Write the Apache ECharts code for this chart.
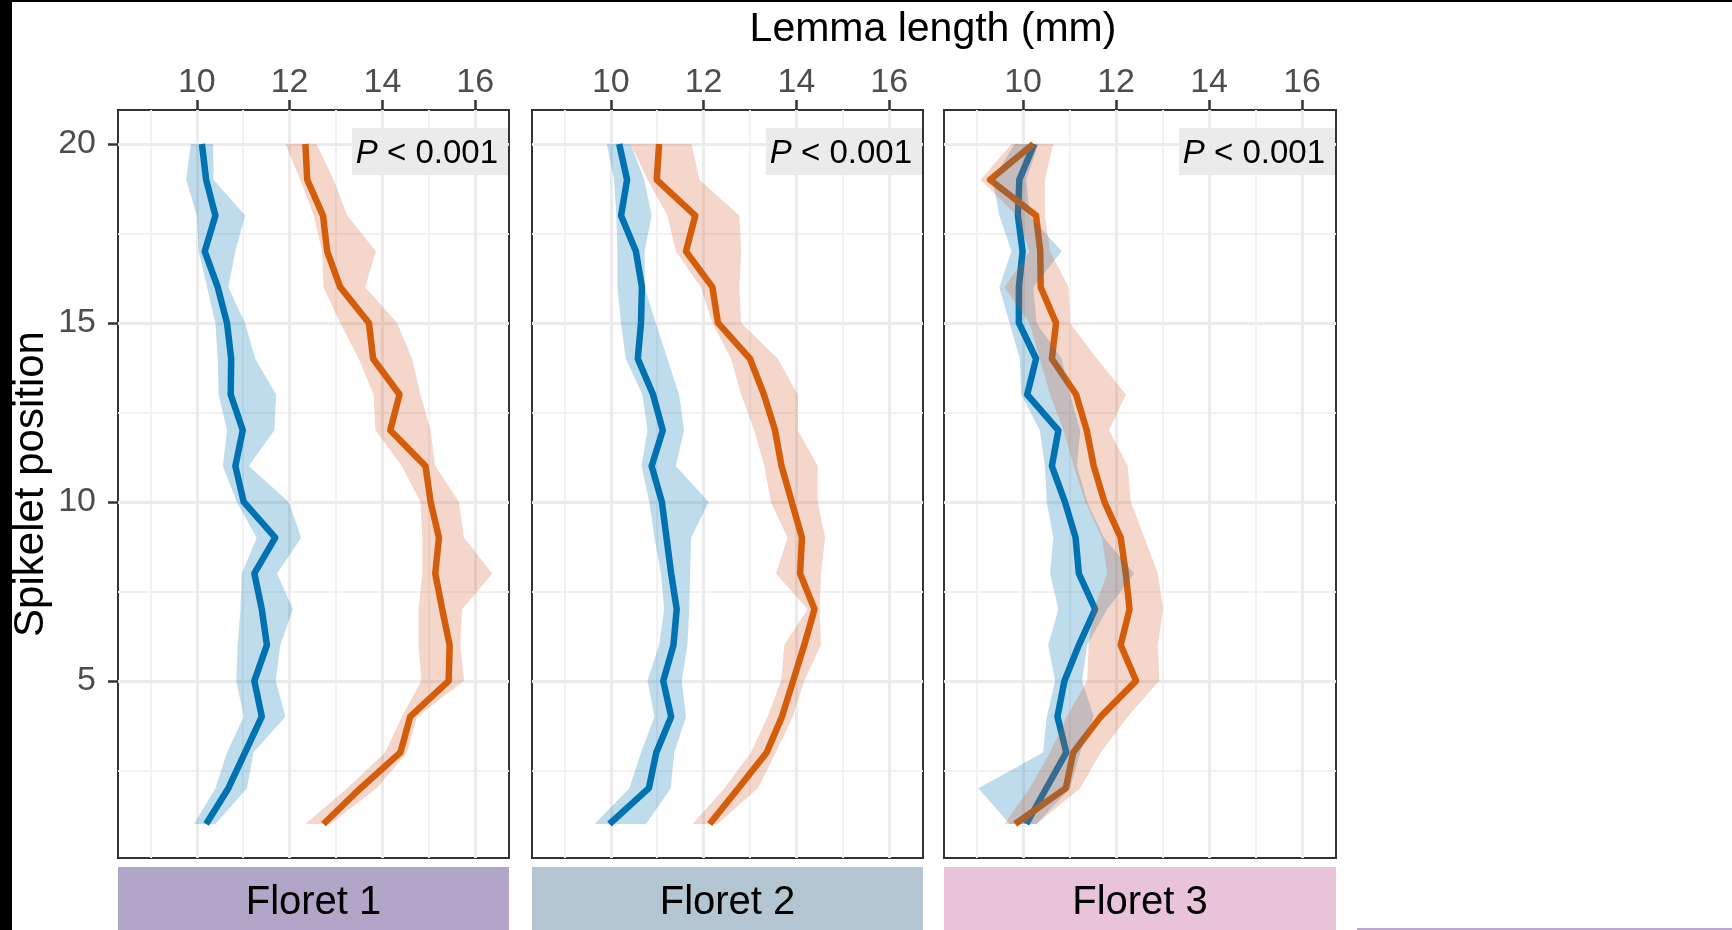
<!DOCTYPE html>
<html>
<head>
<meta charset="utf-8">
<script src="https://cdn.jsdelivr.net/npm/echarts@6/dist/echarts.min.js"></script>
<style>
  html, body { margin: 0; padding: 0; background: #fff; }
  #chart { width: 1732px; height: 930px; }
</style>
</head>
<body>
<div id="chart"></div>
<script>
// Lemma length along the spike, three florets — mean line + ribbon per group

// ── data (index i = spikelet position position[i]) ─────────────────────
const position = [1, 2, 3, 4, 5, 6, 7, 8, 9, 10, 11, 12, 13, 14, 15, 16, 17, 18, 19, 20];
const florets  = ['Floret 1', 'Floret 2', 'Floret 3'];
const pText    = ['P < 0.001', 'P < 0.001', 'P < 0.001'];
const xTicks   = [10, 12, 14, 16];
const xMinor   = [9, 11, 13, 15];
const yTicks   = [5, 10, 15, 20];
const yMinor   = [2.5, 7.5, 12.5, 17.5];

// Floret 1
const f1BlueMean = [10.20, 10.68, 11.04, 11.40, 11.24, 11.51, 11.40, 11.24, 11.69, 11.01, 10.83, 10.99, 10.73, 10.74, 10.65, 10.45, 10.17, 10.40, 10.20, 10.11];
const f1BlueLo   = [9.94, 10.40, 10.65, 11.01, 10.85, 10.88, 10.94, 10.97, 11.29, 10.86, 10.56, 10.65, 10.47, 10.45, 10.40, 10.22, 10.04, 10.00, 9.77, 9.87];
const f1BlueHi   = [10.40, 11.08, 11.22, 11.91, 11.70, 11.80, 12.07, 11.73, 12.25, 11.98, 11.12, 11.67, 11.71, 11.26, 11.04, 10.68, 10.83, 11.04, 10.36, 10.35];
const f1OrMean   = [12.73, 13.53, 14.39, 14.60, 15.43, 15.45, 15.29, 15.14, 15.22, 15.04, 14.93, 14.17, 14.37, 13.80, 13.71, 13.09, 12.81, 12.72, 12.38, 12.34];
const f1OrLo     = [12.34, 13.24, 14.06, 14.42, 14.84, 14.78, 14.78, 14.86, 14.86, 14.82, 14.42, 13.85, 13.81, 13.49, 13.09, 12.73, 12.70, 12.52, 12.23, 11.91];
const f1OrHi     = [12.88, 13.88, 14.53, 14.75, 15.76, 15.68, 15.72, 16.37, 15.76, 15.65, 15.14, 15.04, 14.82, 14.64, 14.32, 13.63, 13.86, 13.24, 12.95, 12.58];

// Floret 2
const f2BlueMean = [9.97, 10.82, 10.98, 11.30, 11.13, 11.35, 11.42, 11.30, 11.20, 11.10, 10.88, 11.12, 10.91, 10.58, 10.65, 10.67, 10.54, 10.22, 10.35, 10.18];
const f2BlueLo   = [9.65, 10.40, 10.65, 10.94, 10.79, 11.04, 11.15, 11.08, 10.94, 10.83, 10.66, 10.79, 10.68, 10.32, 10.22, 10.14, 10.14, 10.12, 10.07, 9.91];
const f2BlueHi   = [10.76, 11.29, 11.37, 11.62, 11.53, 11.65, 11.69, 11.71, 11.73, 12.11, 11.40, 11.58, 11.47, 11.22, 10.97, 10.73, 10.73, 10.88, 10.72, 10.43];
const f2OrMean   = [12.13, 12.75, 13.36, 13.69, 13.93, 14.17, 14.39, 14.08, 14.12, 13.90, 13.68, 13.54, 13.30, 13.00, 12.31, 12.19, 11.62, 11.82, 10.99, 11.04];
const f2OrLo     = [11.76, 12.45, 13.02, 13.38, 13.67, 13.74, 14.24, 13.56, 13.81, 13.45, 13.31, 13.09, 12.81, 12.59, 12.19, 11.94, 11.40, 11.22, 10.79, 10.43];
const f2OrHi     = [12.30, 13.17, 13.56, 13.92, 14.17, 14.53, 14.50, 14.53, 14.62, 14.46, 14.46, 14.03, 14.03, 13.60, 12.81, 12.77, 12.81, 12.77, 11.91, 11.74];

// Floret 3
const f3BlueMean = [10.07, 10.50, 10.93, 10.74, 10.89, 11.20, 11.55, 11.20, 11.13, 10.90, 10.62, 10.76, 10.09, 10.28, 9.91, 9.91, 9.99, 9.89, 9.92, 10.24];
const f3BlueLo   = [9.71, 9.04, 10.43, 10.51, 10.69, 10.54, 10.76, 10.58, 10.65, 10.51, 10.47, 10.36, 9.96, 9.93, 9.71, 9.49, 9.75, 9.49, 9.35, 9.82];
const f3BlueHi   = [10.29, 11.01, 11.23, 11.52, 11.27, 11.38, 11.81, 12.39, 11.74, 11.38, 11.16, 11.23, 11.01, 10.83, 10.29, 10.22, 10.83, 10.14, 10.07, 10.33];
const f3OrMean   = [9.83, 10.92, 11.08, 11.67, 12.43, 12.10, 12.29, 12.21, 12.10, 11.75, 11.52, 11.37, 11.14, 10.62, 10.71, 10.38, 10.37, 10.28, 9.29, 10.22];
const f3OrLo     = [9.60, 10.14, 10.58, 10.94, 11.38, 11.41, 11.52, 11.81, 11.70, 11.34, 11.09, 10.87, 10.58, 10.36, 10.14, 9.60, 10.14, 9.86, 9.09, 9.75];
const f3OrHi     = [10.29, 11.23, 11.67, 12.25, 12.93, 12.90, 13.01, 12.90, 12.61, 12.32, 12.25, 11.85, 12.21, 11.59, 11.01, 10.98, 10.58, 10.47, 10.47, 10.65];

const panels = [
  { blue: [f1BlueMean, f1BlueLo, f1BlueHi], orange: [f1OrMean, f1OrLo, f1OrHi] },
  { blue: [f2BlueMean, f2BlueLo, f2BlueHi], orange: [f2OrMean, f2OrLo, f2OrHi] },
  { blue: [f3BlueMean, f3BlueLo, f3BlueHi], orange: [f3OrMean, f3OrLo, f3OrHi] },
];

// ── style / layout ─────────────────────────────────────────────────────
const FONT     = '"Liberation Sans", Arial, Helvetica, sans-serif';
const blueClr  = '#0072B2';
const orClr    = '#D55E00';
const blueFill = 'rgba(0,114,178,0.25)';
const orFill   = 'rgba(213,92,42,0.25)';
const stripClr = ['#b1a5c8', '#b3c6d2', '#e9c4d9'];
const tickClr  = '#333333';
const labClr   = '#4d4d4d';

const L = [118, 532, 944], W = [391, 391, 392];
const TOP = 110, H = 748;
const XMIN = 8.3, XMAX = 16.73, YMIN = 0.05, YMAX = 20.95;

const chart = echarts.init(document.getElementById('chart'), null, { renderer: 'canvas' });

const grid = [], xAxis = [], yAxis = [], series = [], graphic = [];

function ribbon(g, lo, hi, fill) {
  return {
    type: 'custom', xAxisIndex: g, yAxisIndex: g, z: 3, silent: true, animation: false,
    data: position.map((y, i) => [lo[i], hi[i], y]),
    encode: { x: [0, 1], y: 2 },
    renderItem(params, api) {
      if (params.dataIndex !== 0) return null;
      const pts = [];
      for (let i = 0; i < position.length; i++) pts.push(api.coord([lo[i], position[i]]));
      for (let i = position.length - 1; i >= 0; i--) pts.push(api.coord([hi[i], position[i]]));
      return { type: 'polygon', shape: { points: pts }, style: { fill, stroke: null } };
    },
  };
}

function meanLine(g, mean, color) {
  return {
    type: 'line', xAxisIndex: g, yAxisIndex: g, z: 2, silent: true, animation: false,
    data: position.map((y, i) => [mean[i], y]),
    symbol: 'none', showSymbol: false,
    lineStyle: { color, width: 6.5, join: 'round', cap: 'butt' },
  };
}

for (let g = 0; g < 3; g++) {
  grid.push({
    left: L[g], top: TOP, width: W[g], height: H,
    show: true, backgroundColor: '#fff', borderColor: '#333333', borderWidth: 2,
  });
  xAxis.push({
    gridIndex: g, type: 'value', position: 'top', min: XMIN, max: XMAX,
    axisLine: { show: false },
    axisTick: { show: true, customValues: xTicks, length: 10, lineStyle: { color: tickClr, width: 2.5 } },
    axisLabel: { customValues: xTicks, color: labClr, fontSize: 34, fontFamily: FONT, margin: 10 },
    splitLine: { show: false },
  });
  yAxis.push({
    gridIndex: g, type: 'value', min: YMIN, max: YMAX,
    name: g === 0 ? 'Spikelet position' : '',
    nameLocation: 'middle', nameRotate: 90, nameGap: 66,
    nameTextStyle: { color: '#000', fontSize: 42, fontFamily: FONT },
    axisLine: { show: false },
    axisTick: { show: g === 0, customValues: yTicks, length: 10, lineStyle: { color: tickClr, width: 2.5 } },
    axisLabel: { show: g === 0, customValues: yTicks, color: labClr, fontSize: 34, fontFamily: FONT, margin: 22 },
    splitLine: { show: false },
  });

  // panel grid (ggplot theme_bw look) drawn as marker lines through the axes
  const major = { color: '#ebebeb', width: 3, type: 'solid' };
  const minor = { color: '#f2f2f2', width: 2, type: 'solid' };
  series.push({
    type: 'line', xAxisIndex: g, yAxisIndex: g, data: [], silent: true, animation: false,
    markLine: {
      z: 1, silent: true, symbol: 'none', animation: false,
      label: { show: false }, emphasis: { disabled: true },
      data: [
        ...xMinor.map(v => ({ xAxis: v, lineStyle: minor })),
        ...yMinor.map(v => ({ yAxis: v, lineStyle: minor })),
        ...xTicks.map(v => ({ xAxis: v, lineStyle: major })),
        ...yTicks.map(v => ({ yAxis: v, lineStyle: major })),
      ],
    },
  });

  const p = panels[g];
  series.push(meanLine(g, p.blue[0], blueClr));
  series.push(meanLine(g, p.orange[0], orClr));
  series.push(ribbon(g, p.blue[1], p.blue[2], blueFill));
  series.push(ribbon(g, p.orange[1], p.orange[2], orFill));

  // P-value label box
  const right = L[g] + W[g];
  graphic.push({
    type: 'rect', z: 10, shape: { x: right - 157, y: 128, width: 156, height: 47 },
    style: { fill: '#ebebeb' },
  });
  const parts = pText[g].split(' ');
  graphic.push({
    type: 'text', z: 11, x: right - 11, y: 154,
    style: {
      text: `{i|${parts[0]}} ${parts.slice(1).join(' ')}`,
      align: 'right', verticalAlign: 'middle',
      fontSize: 33, fontFamily: FONT, fill: '#000',
      rich: { i: { fontStyle: 'italic', fontSize: 33, fontFamily: FONT, fill: '#000' } },
    },
  });

  // facet strip at bottom
  graphic.push({
    type: 'rect', z: 10, shape: { x: L[g], y: 867, width: W[g], height: 70 },
    style: { fill: stripClr[g] },
  });
  graphic.push({
    type: 'text', z: 11, x: L[g] + W[g] / 2, y: 903,
    style: { text: florets[g], align: 'center', verticalAlign: 'middle', fontSize: 40, fontFamily: FONT, fill: '#000' },
  });
}

// shared x title + frame remnants of the original figure
graphic.push({
  type: 'text', z: 11, x: 933, y: 30,
  style: { text: 'Lemma length (mm)', align: 'center', verticalAlign: 'middle', fontSize: 41, fontFamily: FONT, fill: '#000' },
});
graphic.push({ type: 'rect', z: 12, shape: { x: 0, y: 0, width: 12, height: 930 }, style: { fill: '#000' } });
graphic.push({ type: 'rect', z: 12, shape: { x: 0, y: 0, width: 1732, height: 2 }, style: { fill: '#000' } });
graphic.push({ type: 'rect', z: 12, shape: { x: 1357, y: 928, width: 375, height: 2 }, style: { fill: '#baa6ca' } });

chart.setOption({
  backgroundColor: '#ffffff',
  animation: false,
  grid, xAxis, yAxis, series, graphic,
});
</script>
</body>
</html>
